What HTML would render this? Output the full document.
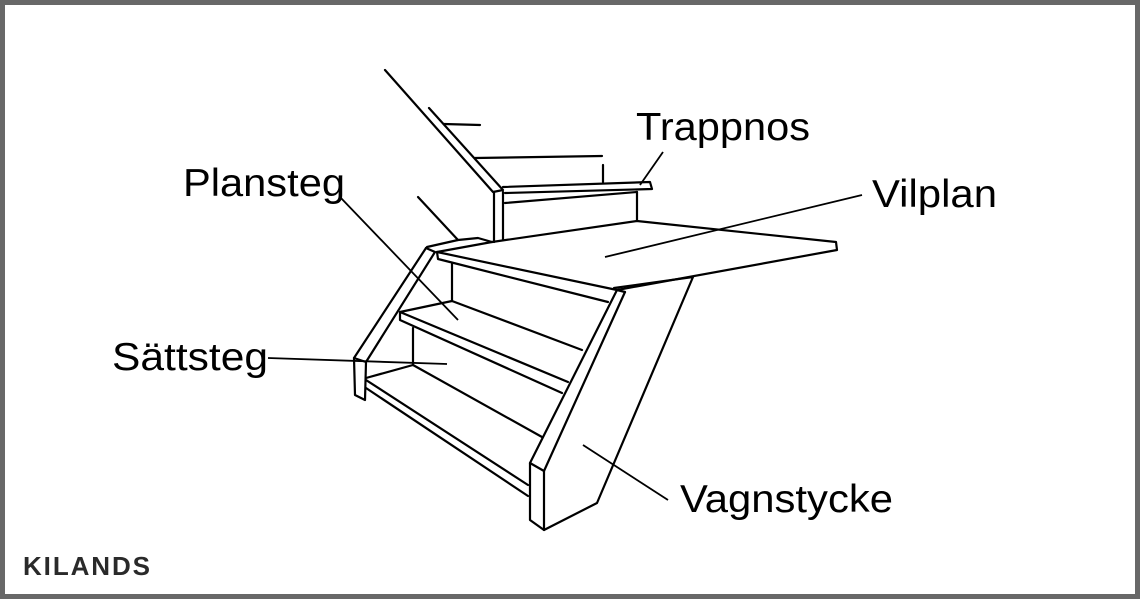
<!DOCTYPE html>
<html><head><meta charset="utf-8"><style>
html,body{margin:0;padding:0;}
body{width:1140px;height:599px;overflow:hidden;background:#fff;}
.frame{position:absolute;left:0;top:0;width:1130px;height:589px;border:5px solid #686868;background:#fff;}
svg{position:absolute;left:0;top:0;}
</style></head><body>
<div class="frame"></div>
<svg width="1140" height="599" viewBox="0 0 1140 599">
<g stroke="#000" stroke-width="2.2" fill="none" stroke-linejoin="round" stroke-linecap="round">
<path d="M385 70 L493 192 L503 190 L429 108"/>
<line x1="494" y1="192" x2="494" y2="242"/>
<line x1="503" y1="192" x2="503" y2="240"/>
<line x1="444" y1="124" x2="480" y2="125"/>
<line x1="475" y1="158" x2="602" y2="156"/>
<line x1="603" y1="165" x2="603" y2="182"/>
<polyline points="503,187 650,182 652,189 505,193"/>
<line x1="505" y1="203" x2="637" y2="192"/>
<line x1="637" y1="192" x2="637" y2="221"/>
<line x1="492" y1="242" x2="637" y2="221"/>
<polyline points="637,221 836,242 837,250 617,290"/>
<line x1="418" y1="197" x2="458" y2="240"/>
<polyline points="427,247 458,240 478,238 492,242"/>
<line x1="437" y1="252" x2="492" y2="242"/>
<polyline points="437,252 438,259 608,302"/>
<line x1="437" y1="252" x2="617" y2="290"/>
<polyline points="426,248 354,358 355,395 365,400 366,362 435,252"/>
<line x1="354" y1="358" x2="366" y2="362"/>
<line x1="426" y1="248" x2="435" y2="252"/>
<line x1="452" y1="264" x2="452" y2="301"/>
<line x1="452" y1="301" x2="400" y2="312"/>
<line x1="452" y1="301" x2="582" y2="350"/>
<polyline points="568,382 400,312 400,320 562,393"/>
<line x1="413" y1="328" x2="413" y2="365"/>
<line x1="413" y1="365" x2="366" y2="378"/>
<line x1="413" y1="365" x2="542" y2="437"/>
<line x1="366" y1="380" x2="528" y2="485"/>
<line x1="366" y1="388" x2="528" y2="496"/>
<polyline points="617,290 530,463 530,520 544,530 597,503 693,277 614,288"/>
<line x1="625" y1="292" x2="544" y2="471"/>
<line x1="544" y1="471" x2="544" y2="530"/>
<line x1="530" y1="463" x2="544" y2="471"/>
<line x1="617" y1="290" x2="625" y2="292"/>
</g>
<g stroke="#000" stroke-width="1.8">
<line x1="663" y1="152" x2="640" y2="185"/>
<line x1="862" y1="195" x2="605" y2="257"/>
<line x1="340" y1="197" x2="458" y2="320"/>
<line x1="268" y1="358" x2="447" y2="364"/>
<line x1="583" y1="445" x2="668" y2="500"/>
</g>
<g font-family="Liberation Sans, sans-serif" font-size="39" fill="#000">
<text x="636" y="140" textLength="174" lengthAdjust="spacingAndGlyphs">Trappnos</text>
<text x="872" y="207" textLength="125" lengthAdjust="spacingAndGlyphs">Vilplan</text>
<text x="183" y="196" textLength="162" lengthAdjust="spacingAndGlyphs">Plansteg</text>
<text x="112" y="370" textLength="156" lengthAdjust="spacingAndGlyphs">Sättsteg</text>
<text x="680" y="512" textLength="213" lengthAdjust="spacingAndGlyphs">Vagnstycke</text>
</g>
<text x="23" y="575" font-family="Liberation Sans, sans-serif" font-size="26" font-weight="bold" fill="#2a2a2a" textLength="127" lengthAdjust="spacing">KILANDS</text>
</svg>
</body></html>
